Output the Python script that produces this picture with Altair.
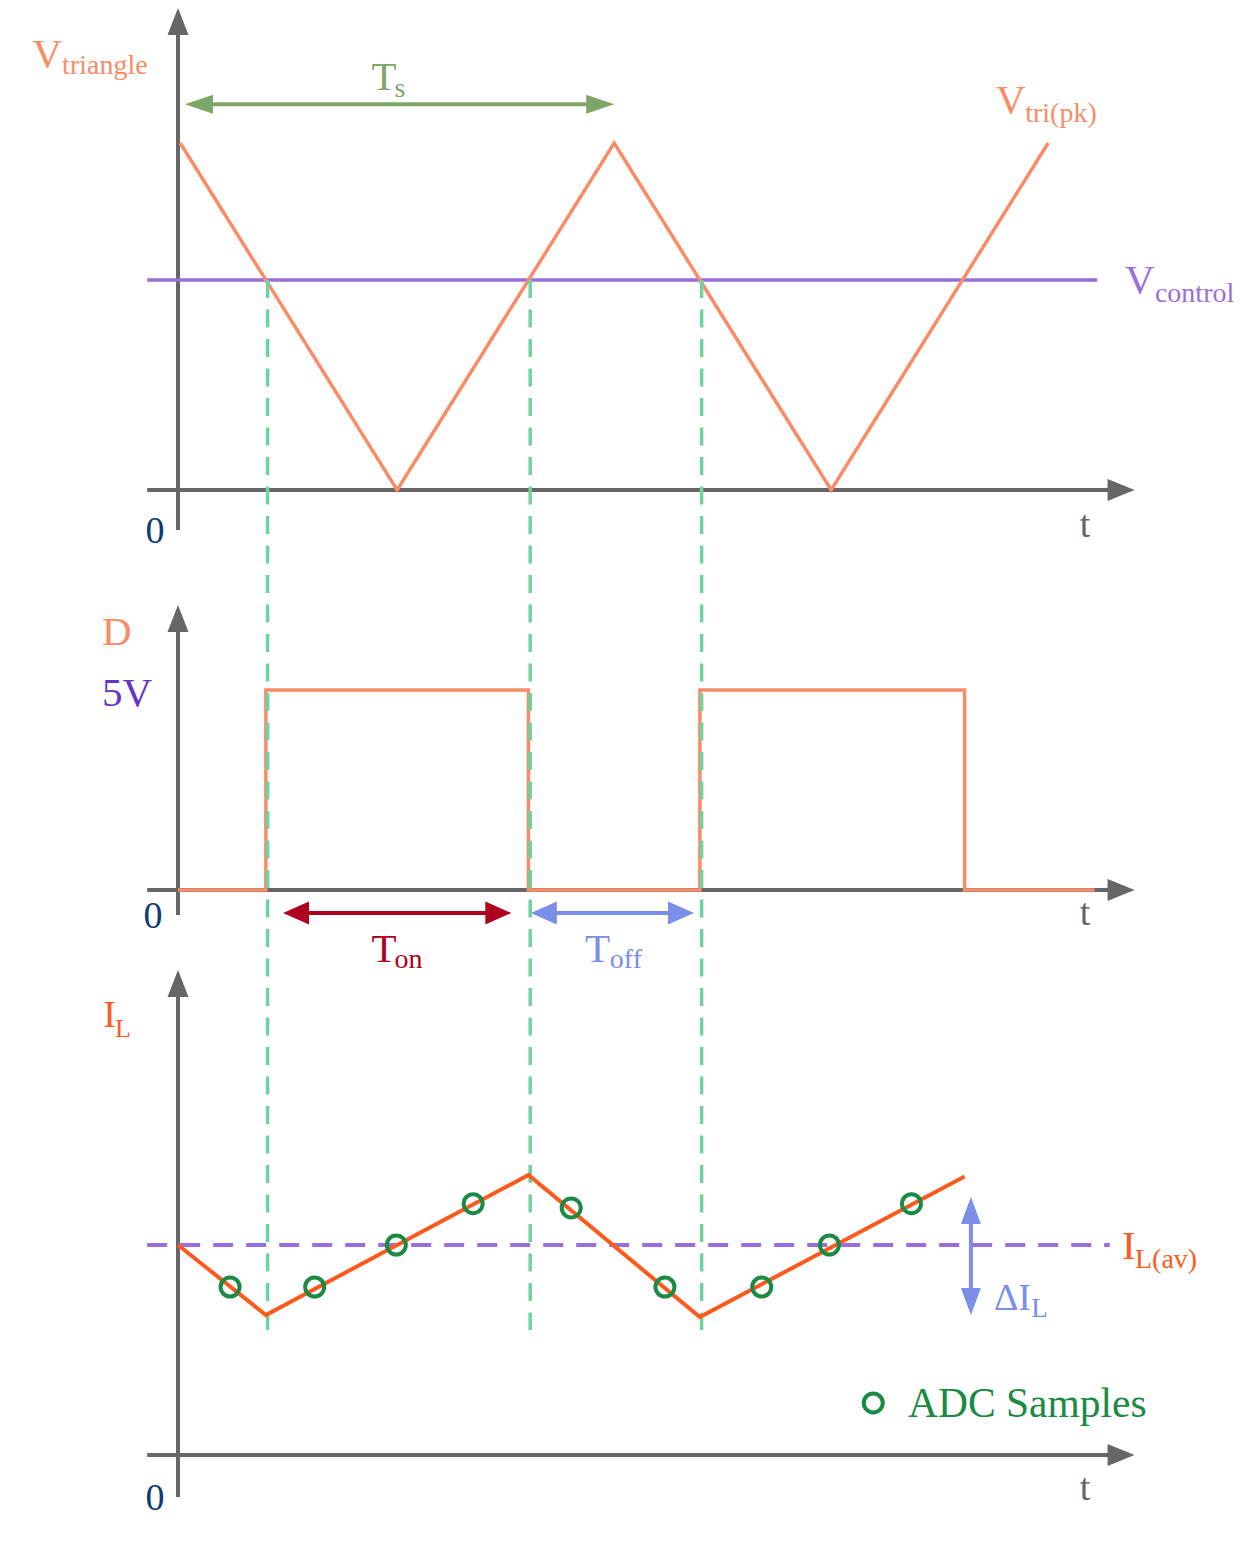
import altair as alt
import pandas as pd

# ---------------- data (time in units of the switching period Ts) ----------------
tri_t = [0.005, 0.505, 1.005, 1.505, 2.005]
tri_v = [1.0, 0.0, 1.0, 0.0, 1.0]          # normalised to Vtri(pk)
vcontrol = 0.605
vcontrol_span = [-0.071, 2.118]
cross_t = [0.2025, 0.8075, 1.2025]          # switching instants (green dashed)

duty_t = [0.0, 0.2025, 0.2025, 0.8075, 0.8075, 1.2025, 1.2025, 1.8125, 1.8125, 2.112]
duty_v = [0, 0, 5, 5, 0, 0, 5, 5, 0, 0]     # volts

il_t = [0.0, 0.2025, 0.8075, 1.2025, 1.8125]
il_v = [3.0, 2.0, 4.0, 1.97, 3.98]          # amps
il_avg = 3.0
il_avg_span = [-0.071, 2.147]

adc_t = [0.12, 0.315, 0.503, 0.68, 0.906, 1.122, 1.345, 1.501, 1.69]
adc_v = [2.4, 2.4, 3.0, 3.59, 3.53, 2.4, 2.4, 3.0, 3.59]

# label texts
lab_text = ["V", "triangle", "T", "s", "V", "tri(pk)", "V", "control", "0", "t",
            "D", "5V", "0", "t", "T", "on", "T", "off",
            "I", "L", "0", "t", "I", "L(av)", "ΔI", "L", "ADC Samples"]
lab_panel = ["tri"] * 10 + ["duty"] * 8 + ["il"] * 9
lab_t = [-0.335, -0.267, 0.446, 0.499, 1.885, 1.952, 2.182, 2.251, -0.053, 2.090,
         -0.175, -0.175, -0.0575, 2.090, 0.446, 0.499, 0.938, 0.995,
         -0.172, -0.145, -0.053, 2.090, 2.175, 2.205, 1.880, 1.966, 1.682]
lab_v = [1.219, 1.199, 1.153, 1.133, 1.086, 1.061, 0.568, 0.542, -0.153, -0.135,
         6.125, 4.6, -0.95, -0.875, -1.8, -1.95, -1.8, -1.95,
         6.114, 5.971, -0.786, -0.643, 2.8, 2.671, 2.071, 1.971, 0.543]

# ---------------- styling / layout ----------------
SALMON = "#F98C66"
PURPLE = "#9B6EDC"
GREEN_D = "#6FD3A0"
TS_GREEN = "#7EA668"
VIOLET = "#6633C8"
NAVY = "#0B3B78"
RED = "#B00020"
BLUE = "#7A8EEA"
ORANGE = "#FF5A1E"
ADC_GREEN = "#1B8A45"
GRAY = "#666666"
FONT = "Liberation Serif"

lab_size = [41, 28, 41, 28, 41, 28, 41, 28, 38, 38,
            41, 41, 38, 38, 41, 28, 41, 28,
            38, 26, 38, 38, 41, 28, 38, 27, 41.5]
lab_color = [SALMON, SALMON, TS_GREEN, TS_GREEN, SALMON, SALMON, PURPLE, PURPLE, NAVY, GRAY,
             SALMON, VIOLET, NAVY, GRAY, RED, RED, BLUE, BLUE,
             ORANGE, ORANGE, NAVY, GRAY, ORANGE, ORANGE, BLUE, BLUE, ADC_GREEN]
lab_align = ["left"] * 8 + ["center"] * 2 + ["left"] * 2 + ["center"] * 2 + ["left"] * 4 + \
            ["left"] * 2 + ["center"] * 2 + ["left"] * 5

W, H = 1229, 1533
ORIGIN_PX = 178.0
PX_PER_T = 434.0
PANELS = {"tri": (490.0, 347.0), "duty": (890.0, 40.0), "il": (1455.0, 70.0)}


def cy(panel, v):
    base, k = PANELS[panel]
    return base - v * k


xs = alt.Scale(domain=[(8 - ORIGIN_PX) / PX_PER_T, (8 + W - ORIGIN_PX) / PX_PER_T], nice=False, zero=False)
ys = alt.Scale(domain=[8 + H, 8], nice=False, zero=False)
X = alt.X("t:Q", scale=xs, axis=None)
Y = alt.Y("y:Q", scale=ys, axis=None)

rules = []   # t, y, t2, y2, color, width
heads = []   # t, y, shape, size, color


def head_shape(dx, dy, h):
    if abs(dx) >= abs(dy):
        return f"M0,0L-1,{-h}L-1,{h}Z" if dx > 0 else f"M0,0L1,{-h}L1,{h}Z"
    return f"M0,0L{-h},-1L{h},-1Z" if dy > 0 else f"M0,0L{-h},1L{h},1Z"


def arrow(panel, t1, v1, t2, v2, color, width, L, half, both=True):
    y1, y2 = cy(panel, v1), cy(panel, v2)
    dx, dy = (t2 - t1) * PX_PER_T, (y2 - y1)
    n = (dx * dx + dy * dy) ** 0.5
    ux, uy = dx / n, dy / n
    cut = L * 0.6
    s2t, s2y = t2 - ux * cut / PX_PER_T, y2 - uy * cut
    s1t, s1y = t1, y1
    if both:
        s1t, s1y = t1 + ux * cut / PX_PER_T, y1 + uy * cut
        heads.append([t1, y1, head_shape(-dx, -dy, half / L), (2 * L) ** 2, color])
    heads.append([t2, y2, head_shape(dx, dy, half / L), (2 * L) ** 2, color])
    rules.append([s1t, s1y, s2t, s2y, color, width])


# axes
AXES = {"tri": (-0.071, 2.204, -0.115, 1.389),
        "duty": (-0.071, 2.204, -0.625, 7.125),
        "il": (-0.071, 2.204, -0.6, 6.93)}
for p, (xa, xb, ya, yb) in AXES.items():
    arrow(p, xa, 0, xb, 0, GRAY, 4, 27, 11, both=False)
    arrow(p, 0, ya, 0, yb, GRAY, 4, 27, 10.5, both=False)

# annotation arrows
arrow("tri", 0.016, 1.112, 1.005, 1.112, TS_GREEN, 4, 28, 9.5)
arrow("duty", 0.242, -0.575, 0.768, -0.575, RED, 4, 26, 11.5)
arrow("duty", 0.813, -0.575, 1.189, -0.575, BLUE, 4, 26, 11.5)
arrow("il", 1.827, 3.686, 1.827, 2.0, BLUE, 4, 27, 10)

rules_df = pd.DataFrame(rules, columns=["t", "y", "t2", "y2", "color", "width"])
heads_df = pd.DataFrame(heads, columns=["t", "y", "shape", "size", "color"])

rule_layer = alt.Chart(rules_df).mark_rule(strokeCap="butt").encode(
    x=X, y=Y, x2="t2:Q", y2="y2:Q",
    color=alt.Color("color:N", scale=None),
    strokeWidth=alt.StrokeWidth("width:Q", scale=None))
head_layer = alt.Chart(heads_df).mark_point(filled=True, opacity=1, strokeWidth=0).encode(
    x=X, y=Y,
    shape=alt.Shape("shape:N", scale=None),
    size=alt.Size("size:Q", scale=None),
    color=alt.Color("color:N", scale=None))

# waveforms
tri_df = pd.DataFrame({"t": tri_t, "y": [cy("tri", v) for v in tri_v], "i": range(len(tri_t))})
duty_df = pd.DataFrame({"t": duty_t, "y": [cy("duty", v) for v in duty_v], "i": range(len(duty_t))})
il_df = pd.DataFrame({"t": il_t, "y": [cy("il", v) for v in il_v], "i": range(len(il_t))})

tri_layer = alt.Chart(tri_df).mark_line(color=SALMON, strokeWidth=3.5).encode(x=X, y=Y, order="i:Q")
duty_layer = alt.Chart(duty_df).mark_line(color=SALMON, strokeWidth=3.5).encode(x=X, y=Y, order="i:Q")
il_layer = alt.Chart(il_df).mark_line(color=ORANGE, strokeWidth=4).encode(x=X, y=Y, order="i:Q")

vc_df = pd.DataFrame({"t": [vcontrol_span[0]], "t2": [vcontrol_span[1]], "y": [cy("tri", vcontrol)]})
vc_layer = alt.Chart(vc_df).mark_rule(color=PURPLE, strokeWidth=3.5).encode(x=X, x2="t2:Q", y=Y)

cross_df = pd.DataFrame({"t": [c + 0.004 for c in cross_t], "y": [cy("tri", vcontrol)] * 3,
                         "y2": [cy("il", 1.786)] * 3})
cross_layer = alt.Chart(cross_df).mark_rule(color=GREEN_D, strokeWidth=3.5, strokeDash=[18, 11.5]).encode(
    x=X, y=Y, y2="y2:Q")

avg_df = pd.DataFrame({"t": [il_avg_span[0]], "t2": [il_avg_span[1]], "y": [cy("il", il_avg)]})
avg_layer = alt.Chart(avg_df).mark_rule(color=PURPLE, strokeWidth=4, strokeDash=[20, 13]).encode(
    x=X, x2="t2:Q", y=Y)

adc_df = pd.DataFrame({"t": adc_t + [1.602], "y": [cy("il", v) for v in adc_v] + [cy("il", 0.743)]})
adc_layer = alt.Chart(adc_df).mark_point(shape="circle", filled=False, color=ADC_GREEN,
                                         strokeWidth=4, size=361, opacity=1).encode(x=X, y=Y)

lab_df = pd.DataFrame({"text": lab_text,
                       "t": lab_t,
                       "y": [cy(p, v) for p, v in zip(lab_panel, lab_v)],
                       "size": lab_size, "color": lab_color, "align": lab_align})
text_layers = []
for al in ["left", "center"]:
    sub = lab_df[lab_df["align"] == al]
    text_layers.append(alt.Chart(sub).mark_text(font=FONT, align=al, baseline="alphabetic").encode(
        x=X, y=Y, text="text:N",
        size=alt.Size("size:Q", scale=None),
        color=alt.Color("color:N", scale=None)))

chart = alt.layer(
    rule_layer, head_layer, vc_layer, tri_layer, duty_layer, cross_layer,
    avg_layer, il_layer, adc_layer, *text_layers
).properties(width=W, height=H, padding=0, autosize="none").configure_view(stroke=None)

chart.save("out.html", embed_options={"renderer": "svg", "actions": False})
